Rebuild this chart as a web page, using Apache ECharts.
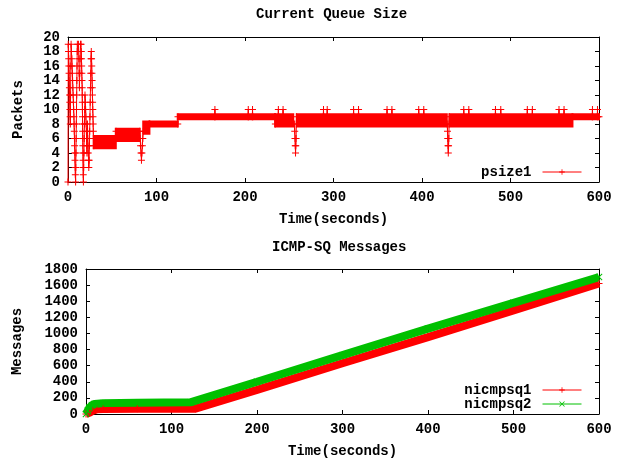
<!DOCTYPE html>
<html>
<head>
<meta charset="utf-8">
<title>Current Queue Size / ICMP-SQ Messages</title>
<script src="https://cdn.jsdelivr.net/npm/echarts@6/dist/echarts.min.js"></script>
<style>
  html, body { margin: 0; padding: 0; background: #fff; }
  #chart { width: 624px; height: 461px; }
</style>
</head>
<body>
<div id="chart"></div>
<script>
// queue size (packets) at single samples: start-up burst, steps, spikes and the lone 10s
const psize1Points = [
  [0, 0], [0.3, 19], [0.6, 18], [0.8, 17], [1.0, 16], [1.2, 15], [1.4, 14], [1.6, 13], [1.8, 12],
  [2.0, 11], [2.2, 10], [2.4, 9], [2.6, 8], [2.9, 12], [3.2, 16], [3.5, 19], [3.9, 18], [4.3, 17],
  [4.6, 16], [4.9, 15], [5.2, 14], [5.5, 13], [5.8, 12], [6.1, 11], [6.4, 10], [6.7, 9], [6.9, 8],
  [7.1, 7], [7.3, 6], [7.5, 5], [7.7, 4], [7.9, 3], [8.1, 2], [8.3, 1], [8.6, 0], [8.8, 2], [9.0, 4],
  [9.2, 6], [9.4, 8], [9.6, 10], [9.8, 12], [10.0, 14], [10.2, 16], [10.4, 18], [10.6, 19], [11.2, 18],
  [11.8, 19], [12.3, 17], [12.6, 15], [12.9, 13], [13.3, 15], [13.7, 17], [14.1, 19], [14.8, 19],
  [15.0, 18], [15.2, 17], [15.4, 16], [15.6, 15], [15.8, 14], [16.0, 13], [16.1, 12], [16.2, 11],
  [16.3, 10], [16.4, 9], [16.5, 8], [16.6, 7], [16.7, 6], [16.8, 5], [16.9, 4], [17.0, 3], [17.1, 2],
  [17.2, 1], [17.4, 0], [17.7, 2], [18.0, 4], [18.3, 6], [18.6, 8], [18.9, 10], [19.2, 12], [19.6, 11],
  [19.9, 10], [20.2, 9], [20.5, 8], [20.8, 7], [21.0, 6], [21.2, 5], [21.4, 4], [21.7, 6], [22.0, 8],
  [22.3, 6], [22.6, 5], [22.9, 4], [23.2, 3], [23.5, 2], [23.9, 3], [24.2, 5], [24.5, 7], [24.8, 9],
  [25.1, 11], [25.4, 13], [25.7, 15], [26.0, 17], [26.3, 18], [26.6, 17], [26.8, 16], [27.0, 15],
  [27.2, 14], [27.4, 13], [27.6, 12], [27.8, 11], [28.0, 10], [28.2, 9], [28.4, 8], [28.6, 7],
  [28.8, 6], [29.2, 5],
  [54, 6], [54.3, 7],
  [81, 7], [81.5, 6], [82, 5], [82.5, 4], [83, 3], [83.5, 4], [84, 5], [84.5, 6], [85, 7],
  [92, 8], [124, 8], [124.3, 9],
  [165.7, 9], [166, 10], [166.3, 9], [203.4, 9], [203.7, 10], [204, 9], [208.2, 9], [208.5, 10], [208.8, 9],
  [234, 9], [234.3, 8], [237.4, 9], [237.7, 10], [238, 9], [242.7, 9], [243, 10], [243.3, 9],
  [255.8, 8], [256.2, 7], [256.5, 6], [256.8, 5], [257.1, 4], [257.4, 5], [257.7, 6], [258, 8], [258.3, 9],
  [288.4, 9], [288.7, 10], [289, 9], [292.6, 9], [292.9, 10], [293.2, 9],
  [322.4, 9], [322.7, 10], [323, 9], [328, 9], [328.3, 10], [328.6, 9],
  [360.2, 9], [360.5, 10], [360.8, 9], [365.7, 9], [366, 10], [366.3, 9],
  [396, 9], [396.3, 10], [396.6, 9], [401.7, 9], [402, 10], [402.3, 9],
  [428.5, 8], [428.8, 7], [429.1, 6], [429.4, 5], [429.7, 4], [430, 5], [430.3, 6], [430.6, 8], [431, 9],
  [446.9, 9], [447.2, 10], [447.5, 9], [452.6, 9], [452.9, 10], [453.2, 9],
  [482.7, 9], [483, 10], [483.3, 9], [488.7, 9], [489, 10], [489.3, 9],
  [518.7, 9], [519, 10], [519.3, 9], [524.4, 9], [524.7, 10], [525, 9],
  [554.5, 9], [554.8, 10], [555.1, 9], [560.2, 9], [560.5, 10], [560.8, 9],
  [592.3, 9], [592.6, 10], [592.9, 9], [598, 9], [598.3, 10], [598.6, 9], [600, 9]
];

// stretches where the queue flips so fast the marks merge: [from, to, low, high]
const psize1Bands = [
  [29, 54, 5, 6], [54, 81, 6, 7], [85, 92, 7, 8], [92, 124, 8, 8], [124, 234, 9, 9],
  [234, 254.5, 8, 9], [258.5, 428, 8, 9], [431, 570, 8, 9], [570, 600, 9, 9]
];

// cumulative ICMP-SQ messages
const nicmpsq1 = [
  [0, 0], [4, 15], [8, 40], [13, 60], [20, 62], [60, 64], [128, 66],
  [200, 300], [300, 630], [400, 955], [500, 1285], [600, 1620]
];
const nicmpsq2 = [
  [0, 0], [2, 40], [4, 80], [7, 110], [10, 125], [20, 135], [60, 140], [122, 145],
  [200, 400], [300, 730], [400, 1060], [500, 1380], [600, 1700]
];

const FONT = 'Liberation Mono';
const plusSymbol = 'path://M3,0H4V3H7V4H4V7H3V4H0V3H3Z';
const crossSymbol = 'path://M0,0.7L0.7,0L3.5,2.8L6.3,0L7,0.7L4.2,3.5L7,6.3L6.3,7L3.5,4.2L0.7,7L0,6.3L2.8,3.5Z';
const text = { fontFamily: FONT, fontSize: 14, fontWeight: 'bold', color: '#000' };

function xAxisFor(gridIndex, top) {
  return {
    type: 'value', gridIndex: gridIndex, position: top ? 'top' : 'bottom',
    min: 0, max: 600, interval: 100,
    name: top ? '' : 'Time(seconds)', nameLocation: 'middle', nameGap: 30,
    nameTextStyle: text,
    axisLine: { show: true, onZero: false, lineStyle: { color: '#000', width: 1 } },
    axisTick: { show: true, inside: true, length: 4, lineStyle: { color: '#000' } },
    axisLabel: Object.assign({ show: !top, margin: 8, formatter: function (v) { return String(v); } }, text),
    splitLine: { show: false }
  };
}
function yAxisFor(gridIndex, right, max, interval, name, gap) {
  return {
    type: 'value', gridIndex: gridIndex, position: right ? 'right' : 'left',
    min: 0, max: max, interval: interval,
    name: right ? '' : name, nameLocation: 'middle', nameGap: gap,
    nameTextStyle: text,
    axisLine: { show: true, onZero: false, lineStyle: { color: '#000', width: 1 } },
    axisTick: { show: true, inside: true, length: 4, lineStyle: { color: '#000' } },
    axisLabel: Object.assign({ show: !right, margin: 8, formatter: function (v) { return String(v); } }, text),
    splitLine: { show: false }
  };
}

const chart = echarts.init(document.getElementById('chart'));
chart.setOption({
  animation: false,
  backgroundColor: '#fff',
  title: [
    { text: 'Current Queue Size', left: 256, top: 7, padding: 0, textStyle: text },
    { text: 'ICMP-SQ Messages', left: 272, top: 240, padding: 0, textStyle: text }
  ],
  legend: [
    {
      data: ['psize1'], right: 42, top: 165, orient: 'vertical', align: 'right', padding: 0,
      itemWidth: 39, itemHeight: 7, itemGap: 0,
      textStyle: Object.assign({ lineHeight: 13, padding: [0, 6, 0, 0] }, text),
      lineStyle: { width: 1 }
    },
    {
      data: ['nicmpsq1', 'nicmpsq2'], right: 42, top: 383, orient: 'vertical', align: 'right', padding: 0,
      itemWidth: 39, itemHeight: 7, itemGap: 0,
      textStyle: Object.assign({ lineHeight: 13, padding: [0, 6, 0, 0] }, text),
      lineStyle: { width: 1 }
    }
  ],
  grid: [
    { left: 68, right: 25, top: 37, height: 145, outerBoundsMode: 'none' },
    { left: 86, right: 25, top: 269, height: 145, outerBoundsMode: 'none' }
  ],
  xAxis: [xAxisFor(0, false), xAxisFor(0, true), xAxisFor(1, false), xAxisFor(1, true)],
  yAxis: [
    yAxisFor(0, false, 20, 2, 'Packets', 43),
    yAxisFor(0, true, 20, 2, '', 0),
    yAxisFor(1, false, 1800, 200, 'Messages', 62),
    yAxisFor(1, true, 1800, 200, '', 0)
  ],
  series: [
    {
      name: 'psize1 dense', type: 'custom', xAxisIndex: 0, yAxisIndex: 0,
      data: psize1Bands, encode: { x: [0, 1], y: [2, 3] },
      renderItem: function (params, api) {
        const a = api.coord([api.value(0), api.value(3)]);
        const b = api.coord([api.value(1), api.value(2)]);
        return {
          type: 'rect',
          shape: { x: a[0] - 1, y: a[1] - 3.5, width: b[0] - a[0] + 2, height: b[1] - a[1] + 7 },
          style: { fill: '#ff0000' }
        };
      }
    },
    {
      name: 'psize1', type: 'line', xAxisIndex: 0, yAxisIndex: 0, data: psize1Points,
      symbol: plusSymbol, symbolSize: 7, showSymbol: true, showAllSymbol: true, clip: false,
      itemStyle: { color: '#ff0000' }, lineStyle: { color: '#ff0000', width: 1 }
    },
    {
      name: 'nicmpsq1', type: 'line', xAxisIndex: 2, yAxisIndex: 2, data: nicmpsq1,
      symbol: plusSymbol, symbolSize: 7, showAllSymbol: true, clip: false,
      itemStyle: { color: '#ff0000' }, lineStyle: { color: '#ff0000', width: 8 }
    },
    {
      name: 'nicmpsq2', type: 'line', xAxisIndex: 2, yAxisIndex: 2, data: nicmpsq2,
      symbol: crossSymbol, symbolSize: 7, showAllSymbol: true, clip: false,
      itemStyle: { color: '#00c000' }, lineStyle: { color: '#00c000', width: 8 }
    }
  ]
});
</script>
</body>
</html>
